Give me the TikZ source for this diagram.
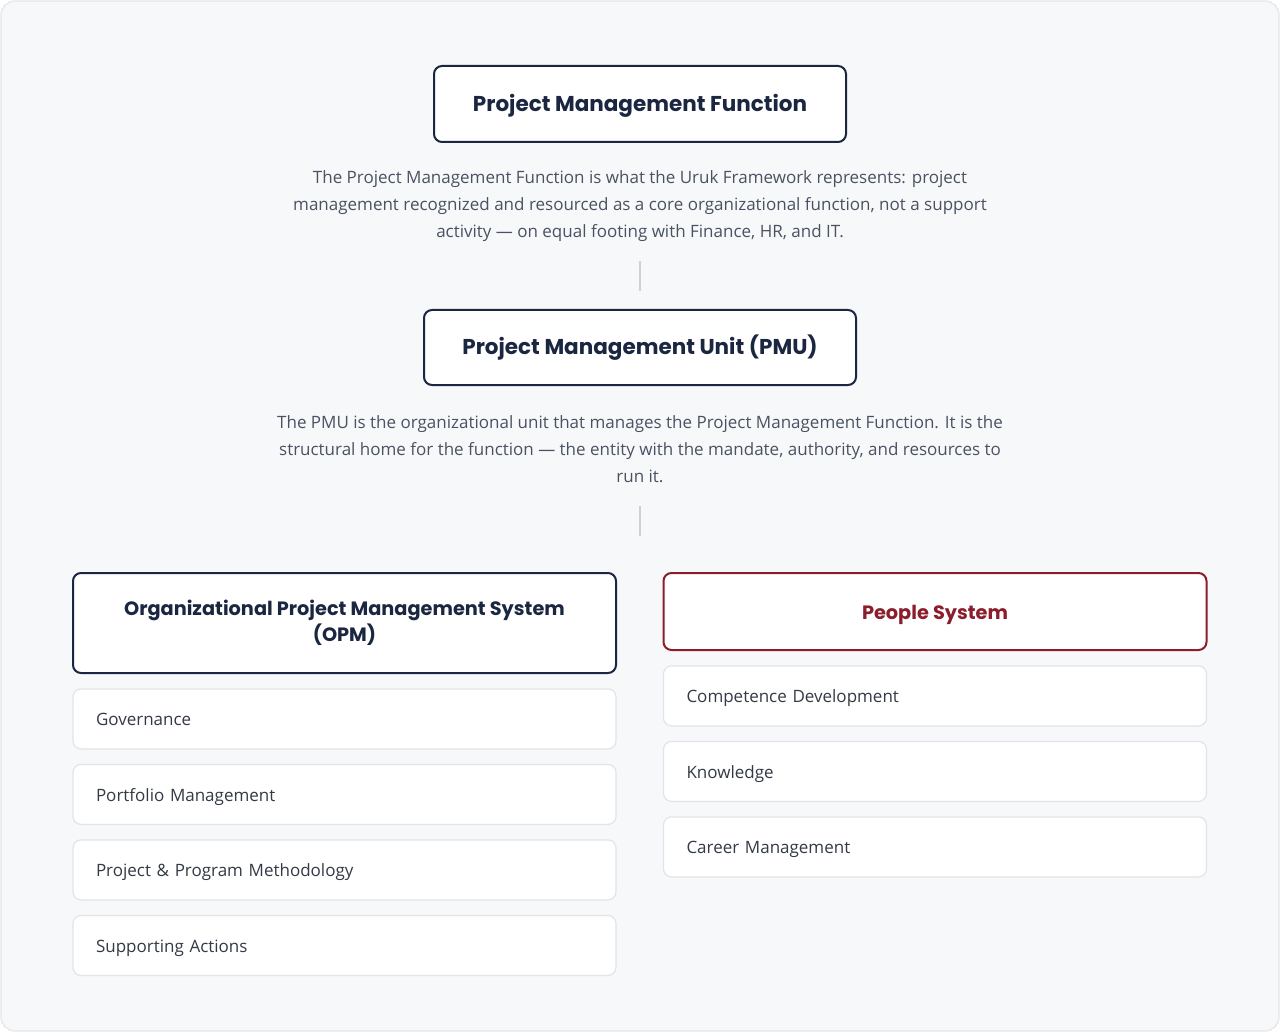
\documentclass[tikz,border=0pt]{standalone}
\usepackage{fontspec}
\setmainfont{Open Sans}
\newfontfamily\headfont{Poppins}
\usetikzlibrary{positioning}
\definecolor{pagebg}{HTML}{F7F8FA}
\definecolor{pageline}{HTML}{E3E6EA}
\definecolor{navy}{HTML}{1B2641}
\definecolor{wine}{HTML}{8B1D2C}
\definecolor{linkgray}{HTML}{CDD2D9}
\definecolor{desctext}{HTML}{4A5262}
\definecolor{itemtext}{HTML}{333A45}
\definecolor{itemline}{HTML}{E1E4E9}
\tikzset{
  headbox/.style={draw=navy, line width=2pt, rounded corners=8pt, fill=white, text=navy,
    font=\headfont\bfseries\fontsize{21.5}{26}\selectfont, align=center, inner sep=0pt},
  oneline/.style={text height=15pt, text depth=0pt},
  groupbox/.style={headbox, minimum width=543pt, font=\headfont\bfseries\fontsize{19.3}{26}\selectfont},
  desc/.style={text=desctext, align=center, inner sep=0pt, font=\fontsize{17}{27}\selectfont},
  item/.style={draw=itemline, line width=1.2pt, rounded corners=8pt, fill=white, text=itemtext,
    text width=497pt, inner xsep=23pt, inner ysep=0pt, minimum height=60pt, align=left,
    text height=16pt, text depth=2pt, font=\fontsize{17}{20}\selectfont},
  link/.style={draw=linkgray, line width=1.2pt}
}
\begin{document}
\begin{tikzpicture}[x=1pt, y=-1pt]
\fill[white] (0,0) rectangle (1280,1032);
\draw[fill=pagebg, draw=pageline, line width=1.2pt, rounded corners=14pt] (1,1) rectangle (1279,1031);

\node[headbox, oneline, minimum width=412pt, minimum height=76pt] (pmf) at (640,104) {Project Management Function};
\node[desc] (pmfdesc) at (640,206.5) {The Project Management Function is what the Uruk Framework represents: project\\
  management recognized and resourced as a core organizational function, not a support\\
  activity — on equal footing with Finance, HR, and IT.};

\node[headbox, oneline, minimum width=432pt, minimum height=75pt] (pmu) at (640,347.5) {Project Management Unit (PMU)};
\node[desc] (pmudesc) at (640,449) {The PMU is the organizational unit that manages the Project Management Function. It is the\\
  structural home for the function — the entity with the mandate, authority, and resources to\\
  run it.};

\draw[link] (pmu.north) ++(0,-48) -- ++(0,30);
\draw[link] (pmu.south) ++(0,120) -- ++(0,30);

\node[groupbox, minimum height=100pt] (opm) at (344.5,623) {Organizational Project Management System\\ (OPM)};
\node[groupbox, oneline, draw=wine, text=wine, minimum height=77pt] (people) at (935,611.5) {People System};

\node[item, below=14.3pt of opm] (gov) {Governance};
\node[item, below=14.3pt of gov] (port) {Portfolio Management};
\node[item, below=14.3pt of port] (method) {Project \& Program Methodology};
\node[item, below=14.3pt of method] (support) {Supporting Actions};

\node[item, below=14.3pt of people] (comp) {Competence Development};
\node[item, below=14.3pt of comp] (know) {Knowledge};
\node[item, below=14.3pt of know] (career) {Career Management};
\end{tikzpicture}
\end{document}
